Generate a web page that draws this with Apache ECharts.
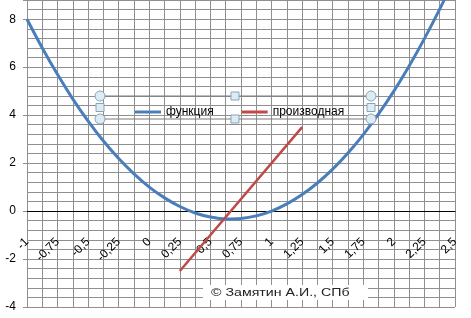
<!DOCTYPE html>
<html>
<head>
<meta charset="utf-8">
<script src="https://cdn.jsdelivr.net/npm/echarts@6/dist/echarts.min.js"></script>
<style>html,body{margin:0;padding:0;background:#fff}#c{width:471px;height:318px}</style>
</head>
<body>
<div id="c"></div>
<script>
var xValues = [-1, -0.875, -0.75, -0.625, -0.5, -0.375, -0.25, -0.125, 0, 0.125, 0.25, 0.375, 0.5, 0.625, 0.75, 0.875, 1, 1.125, 1.25, 1.375, 1.5, 1.625, 1.75, 1.875, 2, 2.125, 2.25, 2.375, 2.5];
var funcValues = [8, 6.8, 5.69, 4.67, 3.75, 2.92, 2.19, 1.55, 1, 0.55, 0.19, -0.08, -0.25, -0.33, -0.31, -0.2, 0, 0.3, 0.69, 1.17, 1.75, 2.42, 3.19, 4.05, 5, 6.05, 7.19, 8.42, 9.75];
var derivX = [0.25, 1.25];
var derivValues = [-2.5, 3.5];
var seriesNames = ['функция', 'производная'];
var copyright = '© Замятин А.И., СПб';

function pairs(xs, ys) { return xs.map(function (x, i) { return [x, ys[i]]; }); }
function fmt(v) { return String(v).replace('.', ','); }
function fmtY(v) { return (Math.abs(v / 2 - Math.round(v / 2)) < 1e-6) ? String(v) : ''; }

var gridColor = '#8f8f8f';
var chart = echarts.init(document.getElementById('c'), null, { renderer: 'canvas' });

var handles = [];
function circle(x, y) {
  handles.push({ type: 'circle', shape: { cx: x, cy: y, r: 5 }, style: { fill: '#dcecf4', stroke: '#8ba3b5', lineWidth: 1 }, z: 100 });
}
function square(x, y) {
  handles.push({ type: 'rect', shape: { x: x - 4, y: y - 4, width: 8, height: 8 }, style: { fill: '#dcecf4', stroke: '#8ba3b5', lineWidth: 1 }, z: 100 });
}
handles.push({ type: 'line', shape: { x1: 100, y1: 96, x2: 371, y2: 96 }, style: { stroke: '#7a7a7a', lineWidth: 1 }, z: 90 });
handles.push({ type: 'line', shape: { x1: 100, y1: 119, x2: 371, y2: 119 }, style: { stroke: '#7a7a7a', lineWidth: 1 }, z: 90 });
circle(100, 96); circle(100, 119); circle(371, 96); circle(371, 119);
square(100, 107.5); square(371, 107.5); square(235, 96); square(235, 119);

handles.push({ type: 'rect', shape: { x: 203, y: 285, width: 165, height: 15 }, style: { fill: '#ffffff' }, z: 100 });
handles.push({ type: 'text', x: 211, y: 293, scaleX: 1.42, style: { text: copyright, fontSize: 10, fontFamily: 'Liberation Sans', fill: '#222', verticalAlign: 'middle' }, z: 101 });

chart.setOption({
  animation: false,
  grid: { left: 27, right: 16, top: 0, bottom: 11, containLabel: false, outerBoundsMode: 'none' },
  legend: {
    left: 130, top: 101, itemWidth: 26, itemHeight: 3, itemGap: 28, icon: 'rect',
    textStyle: { fontSize: 12, fontFamily: 'Liberation Sans', color: '#000' },
    data: seriesNames
  },
  xAxis: {
    type: 'value', min: -1, max: 2.5, interval: 0.25,
    position: 'bottom', offset: -96,
    axisLine: { onZero: false, lineStyle: { color: '#000', width: 1 } },
    axisTick: { show: false },
    minorTick: { show: false, splitNumber: 2 },
    splitLine: { show: true, lineStyle: { color: gridColor, width: 1 } },
    minorSplitLine: { show: true, lineStyle: { color: gridColor, width: 1 } },
    axisLabel: { rotate: 45, margin: 29, fontSize: 12, fontFamily: 'Liberation Sans', color: '#000', formatter: fmt, showMinLabel: true, showMaxLabel: true }
  },
  yAxis: {
    type: 'value', min: -4, max: 8.8, interval: 2,
    axisLine: { show: true, onZero: false, lineStyle: { color: gridColor } },
    axisTick: { show: true, length: 4, lineStyle: { color: gridColor } },
    minorTick: { show: false, splitNumber: 5 },
    splitLine: { show: true, lineStyle: { color: gridColor, width: 1 } },
    minorSplitLine: { show: true, lineStyle: { color: gridColor, width: 1 } },
    axisLabel: { margin: 11, fontSize: 12, fontFamily: 'Liberation Sans', color: '#000', formatter: fmtY }
  },
  graphic: handles,
  series: [
    { name: seriesNames[0], type: 'line', data: pairs(xValues, funcValues), smooth: 0.3, showSymbol: false, lineStyle: { color: '#4a7ebb', width: 3 }, itemStyle: { color: '#4a7ebb' }, z: 3 },
    { name: seriesNames[1], type: 'line', data: pairs(derivX, derivValues), showSymbol: false, lineStyle: { color: '#be4b48', width: 2.5 }, itemStyle: { color: '#be4b48' }, z: 4 }
  ]
});
</script>
</body>
</html>
